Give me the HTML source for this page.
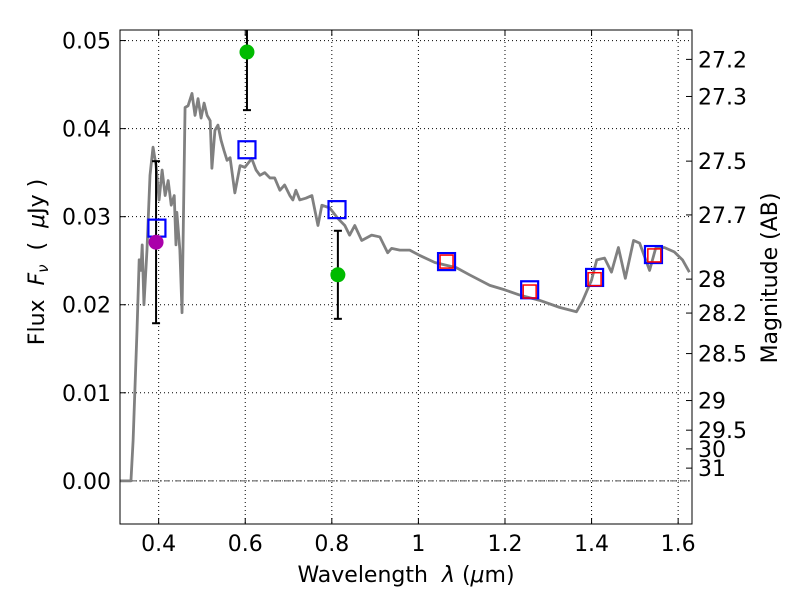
<!DOCTYPE html>
<html><head><meta charset="utf-8"><style>
body{margin:0;background:#fff;}
svg{font-family:"DejaVu Sans","Liberation Sans",sans-serif;}
</style></head><body>
<svg id="chart" width="800" height="600" xmlns="http://www.w3.org/2000/svg">
<defs><clipPath id="pc"><rect x="120" y="30" width="572" height="494"/></clipPath></defs>
<rect width="800" height="600" fill="#fff"/>
<g id="grid"></g>
<g id="ticks"></g>
<g id="marks" clip-path="url(#pc)"></g>
<rect x="120" y="30" width="572" height="494" fill="none" stroke="#000" stroke-width="1"/>
<text x="406" y="582" font-size="22" text-anchor="middle" xml:space="preserve">Wavelength  <tspan font-style="italic">λ</tspan> (<tspan font-style="italic">μ</tspan>m)</text>
<text transform="translate(44,262) rotate(-90)" font-size="22" text-anchor="middle" xml:space="preserve">Flux  <tspan font-style="italic">F<tspan font-size="15" dy="4">ν</tspan></tspan><tspan dy="-4">  (  </tspan><tspan font-style="italic">μ</tspan>Jy )</text>
<text transform="translate(777,278) rotate(-90)" font-size="22" text-anchor="middle">Magnitude (AB)</text>
</svg>
<script>
const xTicks=[0.4,0.6,0.8,1.0,1.2,1.4,1.6];
const xTickLabels=["0.4","0.6","0.8","1","1.2","1.4","1.6"];
const yTicks=[0,0.01,0.02,0.03,0.04,0.05];
const yTickLabels=["0.00","0.01","0.02","0.03","0.04","0.05"];
const magTicks=[27.2,27.3,27.5,27.7,28,28.2,28.5,29,29.5,30,31];
const magTickLabels=["27.2","27.3","27.5","27.7","28","28.2","28.5","29","29.5","30","31"];
const specWave=[0.311,0.336,0.341,0.350,0.355,0.359,0.362,0.366,0.373,0.380,0.387,0.394,0.401,0.408,0.415,0.422,0.429,0.436,0.440,0.442,0.449,0.454,0.461,0.468,0.477,0.484,0.491,0.498,0.505,0.512,0.519,0.523,0.530,0.537,0.544,0.551,0.558,0.565,0.576,0.588,0.599,0.615,0.625,0.634,0.645,0.657,0.668,0.680,0.691,0.703,0.710,0.717,0.726,0.740,0.754,0.768,0.777,0.795,0.814,0.830,0.841,0.853,0.869,0.892,0.911,0.929,0.938,0.957,0.980,1.003,1.038,1.088,1.118,1.165,1.199,1.234,1.280,1.326,1.365,1.379,1.400,1.412,1.430,1.446,1.462,1.478,1.497,1.511,1.534,1.548,1.568,1.591,1.610,1.626];
const specFlux=[0,0,0.0046,0.0171,0.0251,0.0239,0.0268,0.0200,0.0262,0.0347,0.0379,0.0358,0.0319,0.0353,0.0324,0.0341,0.0313,0.0324,0.0268,0.0305,0.0262,0.0191,0.0424,0.0426,0.0440,0.0415,0.0434,0.0412,0.0429,0.0415,0.0409,0.0355,0.0398,0.0404,0.0387,0.0375,0.0364,0.0367,0.0327,0.0358,0.0356,0.0366,0.0353,0.0347,0.0350,0.0344,0.0344,0.0330,0.0336,0.0324,0.0319,0.0330,0.0319,0.0321,0.0324,0.0290,0.0313,0.0310,0.0298,0.0290,0.0279,0.0290,0.0273,0.0279,0.0277,0.0259,0.0264,0.0262,0.0262,0.0256,0.0248,0.0242,0.0234,0.0222,0.0217,0.0211,0.0205,0.0197,0.0192,0.0204,0.0228,0.0251,0.0253,0.0237,0.0265,0.0230,0.0273,0.0270,0.0239,0.0264,0.0265,0.0260,0.0251,0.0237];
const bandWave=[0.396,0.604,0.812,1.065,1.257,1.407,1.543];
const bandFlux=[0.0287,0.0376,0.0308,0.0249,0.0217,0.0231,0.0257];
const redWave=[1.065,1.257,1.407,1.545];
const redFlux=[0.0249,0.0215,0.0229,0.0256];
const obsWave=[0.604,0.814];
const obsFlux=[0.0487,0.0234];
const obsErr=[0.0066,0.0050];
const magWave=[0.394];
const magFlux=[0.0271];
const magErr=[0.0092];

const X0=120,X1=692,Y0=30,Y1=524,xmin=0.3107,xmax=1.632,ymin=-0.0049,ymax=0.0512;
const sx=v=>X0+(v-xmin)/(xmax-xmin)*(X1-X0);
const sy=v=>Y1-(v-ymin)/(ymax-ymin)*(Y1-Y0);
const NS="http://www.w3.org/2000/svg";
function mk(tag,attrs,parent){const e=document.createElementNS(NS,tag);for(const k in attrs)e.setAttribute(k,attrs[k]);parent.appendChild(e);return e;}
const grid=document.getElementById('grid'),ticks=document.getElementById('ticks'),marks=document.getElementById('marks');
xTicks.forEach((t,i)=>{const x=sx(t);
 const g=mk('line',{x1:x,x2:x,y1:Y0,y2:Y1,stroke:'#000','stroke-width':1,'stroke-dasharray':'1,3'},grid);
 
 mk('line',{x1:x,x2:x,y1:Y1,y2:Y1-6,stroke:'#000'},ticks);mk('line',{x1:x,x2:x,y1:Y0,y2:Y0+6,stroke:'#000'},ticks);
 const tx=mk('text',{x:x,y:Y1+27,'font-size':22,'text-anchor':'middle'},ticks);tx.textContent=xTickLabels[i];
 });
yTicks.forEach((t,i)=>{const y=sy(t);
 const g=mk('line',{x1:X0,x2:X1,y1:y,y2:y,stroke:'#000','stroke-width':1,'stroke-dasharray':'1,3'},grid);
 
 mk('line',{x1:X0,x2:X0+6,y1:y,y2:y,stroke:'#000'},ticks);
 const tx=mk('text',{x:X0-9,y:y+8,'font-size':22,'text-anchor':'end'},ticks);tx.textContent=yTickLabels[i];
 });
magTicks.forEach((m,i)=>{const f=Math.pow(10,(23.9-m)/2.5);const y=sy(f);
 mk('line',{x1:X1,x2:X1-6,y1:y,y2:y,stroke:'#000'},ticks);
 const tx=mk('text',{x:X1+6,y:y+8,'font-size':22},ticks);tx.textContent=magTickLabels[i];
 });
const zl=mk('line',{x1:X0,x2:X1,y1:sy(0),y2:sy(0),stroke:'#555','stroke-width':1,'stroke-dasharray':'6,2,1,2'},marks);

const sp=mk('polyline',{points:specWave.map((w,i)=>sx(w)+','+sy(specFlux[i])).join(' '),fill:'none',stroke:'#808080','stroke-width':2.8,'stroke-linejoin':'round'},marks);

function errbar(x,f,e,name){const a=sy(f+e),b=sy(f-e);
 const g=mk('g',{stroke:'#000','stroke-width':2},marks);
 
 mk('line',{x1:x,x2:x,y1:a,y2:b},g);mk('line',{x1:x-4,x2:x+4,y1:a,y2:a},g);mk('line',{x1:x-4,x2:x+4,y1:b,y2:b},g);}
obsWave.forEach((w,i)=>errbar(sx(w),obsFlux[i],obsErr[i],'obs-error-bar'));
magWave.forEach((w,i)=>errbar(sx(w),magFlux[i],magErr[i],'uband-error-bar'));
bandWave.forEach((w,i)=>{const r=mk('rect',{x:sx(w)-8.5,y:sy(bandFlux[i])-8.5,width:17,height:17,fill:'none',stroke:'#0000ff','stroke-width':2.2},marks);
 });
redWave.forEach((w,i)=>{const r=mk('rect',{x:sx(w)-6.5,y:sy(redFlux[i])-6.5,width:13,height:13,fill:'none',stroke:'#ff0000','stroke-width':1.5},marks);
 });
obsWave.forEach((w,i)=>{const c=mk('circle',{cx:sx(w),cy:sy(obsFlux[i]),r:7.5,fill:'#00bb00'},marks);
 });
magWave.forEach((w,i)=>{const c=mk('circle',{cx:sx(w),cy:sy(magFlux[i]),r:7.5,fill:'#aa00aa'},marks);
 });
</script>
</body></html>
